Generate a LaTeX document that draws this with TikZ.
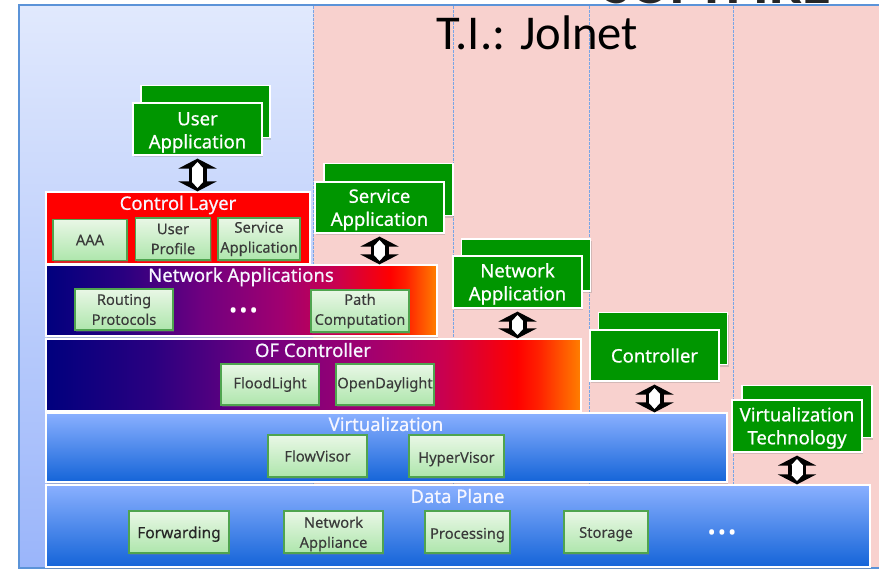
\documentclass[tikz,border=0pt]{standalone}
\usepackage{fontspec}
\setmainfont{Noto Sans}
\newfontfamily\calib{Carlito}
\newfontfamily\semib[FakeBold=0.6]{Noto Sans}
\newfontfamily\lightb[FakeBold=0.15]{Noto Sans}
\newfontfamily\strongb[FakeBold=0.4]{Noto Sans}
\newcommand\lowered[1]{\rule{0pt}{#1pt}}
\usetikzlibrary{arrows.meta,shadows}
\definecolor{frameblue}{HTML}{5B93D8}
\definecolor{dashblue}{HTML}{78A5E6}
\definecolor{panelpink}{HTML}{F8D1CE}
\definecolor{paneltop}{HTML}{E1E9FD}
\definecolor{panelbot}{HTML}{9AB5FA}
\definecolor{appgreen}{HTML}{009600}
\definecolor{smallborder}{HTML}{4FA44F}
\definecolor{smalltop}{HTML}{E9F7E6}
\definecolor{smallbot}{HTML}{AEE6AC}
\definecolor{smalltext}{HTML}{3A3A3A}
\definecolor{vtop}{HTML}{8AB0FF}
\definecolor{vbot}{HTML}{1464D8}
\definecolor{titlewhite}{HTML}{F6F6FF}
\definecolor{hotA}{HTML}{00007E}
\definecolor{hotB}{HTML}{2A0080}
\definecolor{hotC}{HTML}{700080}
\definecolor{hotD}{HTML}{A00070}
\definecolor{hotE}{HTML}{C80050}
\definecolor{hotF}{HTML}{FF0000}
\definecolor{hotG}{HTML}{FF2000}
\definecolor{hotH}{HTML}{FF8000}
\pgfdeclarehorizontalshading{hotband}{100bp}{
  color(0bp)=(hotA);
  color(25bp)=(hotA);
  color(35bp)=(hotB);
  color(45bp)=(hotC);
  color(55bp)=(hotD);
  color(62bp)=(hotE);
  color(69bp)=(hotF);
  color(71bp)=(hotG);
  color(75bp)=(hotH);
  color(100bp)=(hotH)}
\tikzset{
  softshadow/.style={drop shadow={opacity=.3,shadow xshift=1pt,shadow yshift=-2pt}},
  appbox/.style={draw=white,line width=1.2pt,fill=appgreen,text=white,align=center,inner sep=0pt,
    font=\semib\fontsize{18.5}{23}\selectfont,softshadow},
  appback/.style={draw=white,line width=1.2pt,fill=appgreen,inner sep=0pt,minimum width=129pt,minimum height=52pt,softshadow},
  smallbox/.style={draw=smallborder,line width=1.6pt,top color=smalltop,bottom color=smallbot,text=smalltext,
    align=center,inner sep=0pt,font=\lightb\fontsize{14.7}{20}\selectfont,softshadow},
  hotlayer/.style={draw=white,line width=1.2pt,shading=hotband,inner sep=0pt,softshadow},
  bluelayer/.style={draw=white,line width=1.2pt,top color=vtop,bottom color=vbot,inner sep=0pt,softshadow},
  layertitle/.style={text=titlewhite,inner sep=0pt,font=\semib\fontsize{18.5}{20}\selectfont},
  blockarrow/.style={draw=black,line width=18pt,shorten <=3pt,
    arrows={Triangle[width=38pt,length=10pt,fill=black]-Triangle[width=38pt,length=10pt,fill=black]},
    postaction={draw=white,line width=11pt,shorten <=6.5pt,shorten >=3.5pt,
    arrows={Triangle[width=11pt,length=6pt,fill=white]-Triangle[width=11pt,length=6pt,fill=white]}}},
  sectionline/.style={dashblue,line width=1pt,dash pattern=on 2.5pt off 1.5pt},
  dotsnode/.style={text=white,inner sep=0pt,font=\fontsize{22}{22}\selectfont\bfseries}
}
\begin{document}
\begin{tikzpicture}[x=1pt,y=-1pt]
\useasboundingbox (0,0) rectangle (879,570);
% background panels
\fill[panelpink] (313,5) rectangle (890,568);
\shade[top color=paneltop,bottom color=panelbot] (19,5) rectangle (313,568);
\draw[frameblue,line width=2pt] (19,5) rectangle (890,568);
\draw[sectionline] (313,6) -- (313,568);
\draw[sectionline] (453,6) -- (453,568);
\draw[sectionline] (589,6) -- (589,568);
\draw[sectionline] (733,6) -- (733,568);
% header text
\node[anchor=base,inner sep=0pt,font=\bfseries\fontsize{58.7}{58.7}\selectfont,text=black!85] (head) at (717,4) {\calib SOFTFIRE};
\node[anchor=base,inner sep=0pt,font=\fontsize{48.6}{48.6}\selectfont,text=black] (ti) at (537.5,49) {\calib T.I.: Jolnet};
% layers
\node[fill=red,draw=white,line width=1.2pt,minimum width=264pt,minimum height=72pt,inner sep=0pt] (cl) at (178,228) {};
\node[hotlayer,minimum width=391pt,minimum height=71pt] (na) at (241.5,300.5) {};
\node[hotlayer,minimum width=535pt,minimum height=72pt] (of) at (313.5,375) {};
\node[bluelayer,minimum width=681pt,minimum height=69pt] (vi) at (386.5,447.5) {};
\node[bluelayer,minimum width=824pt,minimum height=82pt] (dp) at (458,526) {};
\node[layertitle] (clt) at (178,205) {Control Layer};
\node[layertitle] (nat) at (241,277) {Network Applications};
\node[layertitle] (oft) at (313,350) {OF Controller};
\node[layertitle] (vit) at (386,424) {Virtualization};
\node[layertitle] (dpt) at (457.5,496) {Data Plane};
% small boxes
\node[smallbox,minimum width=74pt,minimum height=41pt] (aaa) at (90,240) {AAA};
\node[smallbox,minimum width=75pt,minimum height=42pt] (up) at (173,239) {User\\Profile};
\node[smallbox,minimum width=82pt,minimum height=42pt] (sa) at (259,239) {Service\\Application};
\node[smallbox,minimum width=98pt,minimum height=41pt] (rp) at (124,309.5) {Routing\\Protocols};
\node[smallbox,minimum width=98pt,minimum height=42pt] (pc) at (360,311) {Path\\Computation};
\node[smallbox,minimum width=98pt,minimum height=41pt] (fl) at (270,384.5) {FloodLight};
\node[smallbox,minimum width=98pt,minimum height=41pt] (od) at (385,384.5) {OpenDaylight};
\node[smallbox,minimum width=99pt,minimum height=42pt] (fv) at (317.5,456) {FlowVisor};
\node[smallbox,minimum width=95pt,minimum height=42pt] (hv) at (456.5,456) {\lowered{17}HyperVisor};
\node[smallbox,minimum width=100pt,minimum height=42pt,font=\strongb\fontsize{15.5}{20}\selectfont,text=black!85] (fw) at (179,532) {\lowered{16}Forwarding};
\node[smallbox,minimum width=99pt,minimum height=42pt] (ap) at (333.5,532) {\lowered{15}Network\\Appliance};
\node[smallbox,minimum width=85pt,minimum height=42pt] (pr) at (467.5,532) {\lowered{17}Processing};
\node[smallbox,minimum width=84pt,minimum height=42pt] (st) at (606,532) {\lowered{15}Storage};
\node[dotsnode] (d1) at (243.5,313) {\textbullet\hspace{2pt}\textbullet\hspace{2pt}\textbullet};
\node[dotsnode] (d2) at (722,535) {\textbullet\hspace{2pt}\textbullet\hspace{2pt}\textbullet};
% green application stacks
\node[appback] (uab) at (205.5,111.5) {};
\node[appbox,minimum width=129pt,minimum height=52pt] (ua) at (197.5,129) {\lowered{20}User\\Application};
\node[appback] (sab) at (388.5,189.5) {};
\node[appbox,minimum width=129pt,minimum height=51pt] (sv) at (379.5,207.5) {\lowered{18}Service\\Application};
\node[appback] (nab) at (526,265) {};
\node[appbox,minimum width=129pt,minimum height=52pt] (nw) at (517.5,282) {\lowered{18}Network\\Application};
\node[appback] (cob) at (663,338.5) {};
\node[appbox,minimum width=129pt,minimum height=51pt] (co) at (654.5,355.5) {Controller};
\node[appback,minimum width=130pt] (vtb) at (807,411.5) {};
\node[appbox,minimum width=130pt,minimum height=52pt] (vt) at (797,426) {\lowered{18}Virtualization\\Technology};
% connectors
\draw[blockarrow] (ua.south) -- (ua.south |- cl.north);
\draw[blockarrow] (sv.south) -- (sv.south |- na.north);
\draw[blockarrow] (nw.south) -- (nw.south |- of.north);
\draw[blockarrow] (co.south) -- (co.south |- vi.north);
\draw[blockarrow] (vt.south) -- (vt.south |- dp.north);
\end{tikzpicture}
\end{document}
